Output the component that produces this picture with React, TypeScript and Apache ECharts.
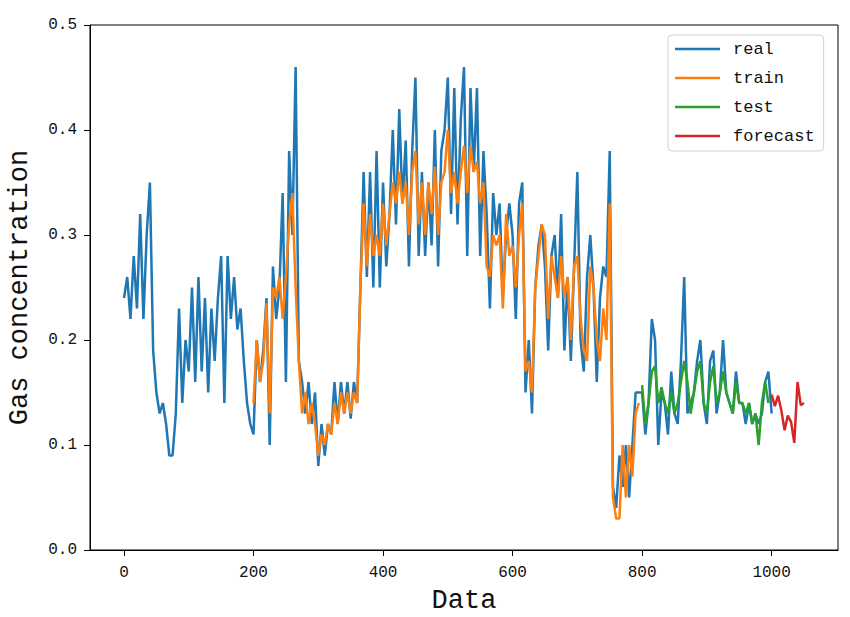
import React, { useEffect, useRef } from "react";
import * as echarts from "echarts";

const STEP = 5;
const realStart = 0;
const realValues = [
  0.24, 0.26, 0.22, 0.28, 0.23, 0.32, 0.22, 0.30, 0.35, 0.19,
  0.15, 0.13, 0.14, 0.12, 0.09, 0.09, 0.13, 0.23, 0.14, 0.20,
  0.17, 0.25, 0.16, 0.26, 0.17, 0.24, 0.15, 0.23, 0.18, 0.24,
  0.28, 0.14, 0.28, 0.22, 0.26, 0.21, 0.23, 0.18, 0.14, 0.12,
  0.11, 0.20, 0.16, 0.19, 0.24, 0.10, 0.27, 0.22, 0.25, 0.34,
  0.16, 0.38, 0.30, 0.46, 0.18, 0.16, 0.13, 0.16, 0.12, 0.15,
  0.08, 0.12, 0.09, 0.12, 0.11, 0.16, 0.12, 0.16, 0.13, 0.16,
  0.125, 0.16, 0.14, 0.25, 0.36, 0.26, 0.36, 0.25, 0.38, 0.25,
  0.35, 0.27, 0.32, 0.40, 0.31, 0.42, 0.33, 0.39, 0.27, 0.38,
  0.45, 0.28, 0.36, 0.28, 0.35, 0.29, 0.40, 0.27, 0.38, 0.40,
  0.45, 0.32, 0.44, 0.31, 0.41, 0.46, 0.28, 0.44, 0.36, 0.44,
  0.28, 0.38, 0.32, 0.23, 0.34, 0.30, 0.33, 0.24, 0.30, 0.33,
  0.30, 0.22, 0.33, 0.35, 0.15, 0.20, 0.13, 0.25, 0.29, 0.31,
  0.27, 0.19, 0.28, 0.30, 0.24, 0.32, 0.19, 0.26, 0.18, 0.27,
  0.36, 0.20, 0.17, 0.26, 0.30, 0.25, 0.16, 0.24, 0.27, 0.26,
  0.38, 0.06, 0.04, 0.09, 0.06, 0.10, 0.05, 0.10, 0.15, 0.15,
  0.15, 0.11, 0.14, 0.22, 0.20, 0.10, 0.15, 0.14, 0.11, 0.17,
  0.13, 0.12, 0.18, 0.26, 0.13, 0.14, 0.15, 0.18, 0.20, 0.14,
  0.12, 0.18, 0.19, 0.13, 0.15, 0.20, 0.15, 0.14, 0.13, 0.17,
  0.14, 0.14, 0.12, 0.14, 0.12, 0.13, 0.12, 0.13, 0.16, 0.17,
  0.13,
];

const trainStart = 200;
const trainValues = [
  0.14, 0.20, 0.16, 0.18, 0.235, 0.13, 0.25, 0.24, 0.26, 0.22,
  0.26, 0.31, 0.34, 0.25, 0.18, 0.13, 0.15, 0.12, 0.14, 0.12,
  0.09, 0.11, 0.10, 0.12, 0.11, 0.14, 0.12, 0.15, 0.13, 0.15,
  0.13, 0.15, 0.14, 0.25, 0.33, 0.27, 0.32, 0.28, 0.30, 0.28,
  0.33, 0.29, 0.32, 0.35, 0.33, 0.36, 0.33, 0.35, 0.30, 0.36,
  0.38, 0.31, 0.35, 0.30, 0.35, 0.32, 0.365, 0.30, 0.35, 0.36,
  0.40, 0.34, 0.36, 0.33, 0.36, 0.385, 0.34, 0.385, 0.36, 0.37,
  0.33, 0.35, 0.27, 0.26, 0.30, 0.29, 0.30, 0.23, 0.32, 0.28,
  0.29, 0.25, 0.30, 0.33, 0.17, 0.18, 0.15, 0.25, 0.28, 0.31,
  0.30, 0.22, 0.28, 0.26, 0.24, 0.28, 0.24, 0.26, 0.20, 0.27,
  0.28, 0.22, 0.19, 0.18, 0.27, 0.25, 0.20, 0.18, 0.23, 0.20,
  0.33, 0.05, 0.03, 0.03, 0.10, 0.05, 0.10, 0.07, 0.13, 0.14,
];

const testStart = 800;
const testValues = [
  0.157, 0.12, 0.14, 0.17, 0.175, 0.14, 0.155, 0.14, 0.13, 0.15,
  0.13, 0.14, 0.16, 0.18, 0.16, 0.13, 0.15, 0.17, 0.18, 0.14,
  0.13, 0.16, 0.175, 0.14, 0.15, 0.17, 0.15, 0.14, 0.13, 0.16,
  0.14, 0.14, 0.13, 0.14, 0.12, 0.13, 0.10, 0.14, 0.16, 0.14,
];

const forecastStart = 1000;
const forecastValues = [0.148, 0.137, 0.147, 0.133, 0.114, 0.128, 0.122, 0.102, 0.16, 0.138, 0.14];

const xTicks = [0, 200, 400, 600, 800, 1000];
const seriesNames = ["real", "train", "test", "forecast"];
const colors = ["#1f77b4", "#ff7f0e", "#2ca02c", "#d62728"];

const toPairs = (start: number, vals: number[]) => vals.map((v, i) => [start + i * STEP, v]);

const FONT = "Liberation Mono";

export default function App() {
  const ref = useRef<HTMLDivElement>(null);
  useEffect(() => {
    if (!ref.current) return;
    const chart = echarts.init(ref.current, null, { renderer: "svg" });
    const data = [
      toPairs(realStart, realValues),
      toPairs(trainStart, trainValues),
      toPairs(testStart, testValues),
      toPairs(forecastStart, forecastValues),
    ];
    chart.setOption({
      animation: false,
      backgroundColor: "#ffffff",
      grid: {
        left: 90,
        right: 12,
        top: 25,
        bottom: 67,
        containLabel: false,
        outerBoundsMode: "none",
        show: true,
        borderColor: "#000",
        borderWidth: 1,
        backgroundColor: "transparent",
      },
      legend: {
        orient: "vertical",
        left: 668,
        top: 35,
        padding: [5, 9, 6, 7],
        backgroundColor: "#fff",
        borderColor: "#d0d0d0",
        borderWidth: 1,
        borderRadius: 4,
        icon: "rect",
        itemWidth: 45,
        itemHeight: 2.5,
        itemGap: 11,
        data: seriesNames,
        textStyle: {
          fontFamily: FONT,
          fontSize: 17,
          color: "#111",
          lineHeight: 18,
          padding: [0, 0, 0, 8],
        },
      },
      xAxis: {
        type: "value",
        min: -52.5,
        max: 1102.5,
        name: "Data",
        nameLocation: "middle",
        nameGap: 37,
        nameTextStyle: { fontFamily: FONT, fontSize: 27, color: "#111", lineHeight: 27 },
        splitLine: { show: false },
        axisLine: { show: true, onZero: false, lineStyle: { color: "#000", width: 1 } },
        axisTick: {
          show: true,
          inside: false,
          length: 6,
          customValues: xTicks,
          lineStyle: { color: "#000" },
        },
        axisLabel: {
          customValues: xTicks,
          fontFamily: FONT,
          fontSize: 16,
          color: "#111",
          margin: 15,
          formatter: (v: number) => String(v),
        },
      },
      yAxis: {
        type: "value",
        min: 0,
        max: 0.5,
        interval: 0.1,
        name: "Gas concentration",
        nameLocation: "middle",
        nameGap: 57,
        nameRotate: 90,
        nameTextStyle: { fontFamily: FONT, fontSize: 27, color: "#111" },
        splitLine: { show: false },
        axisLine: { show: true, onZero: false, lineStyle: { color: "#000", width: 1 } },
        axisTick: { show: true, inside: false, length: 6, lineStyle: { color: "#000" } },
        axisLabel: {
          fontFamily: FONT,
          fontSize: 16,
          color: "#111",
          margin: 13,
          formatter: (v: number) => v.toFixed(1),
        },
      },
      series: seriesNames.map((name, i) => ({
        name,
        type: "line",
        data: data[i],
        showSymbol: false,
        symbol: "none",
        color: colors[i],
        lineStyle: { color: colors[i], width: 2.5 },
        z: 2 + i,
      })),
    });
    return () => chart.dispose();
  }, []);
  return (
    <div
      ref={ref}
      style={{ position: "absolute", left: 0, top: 0, width: 850, height: 617, background: "#fff" }}
    />
  );
}
